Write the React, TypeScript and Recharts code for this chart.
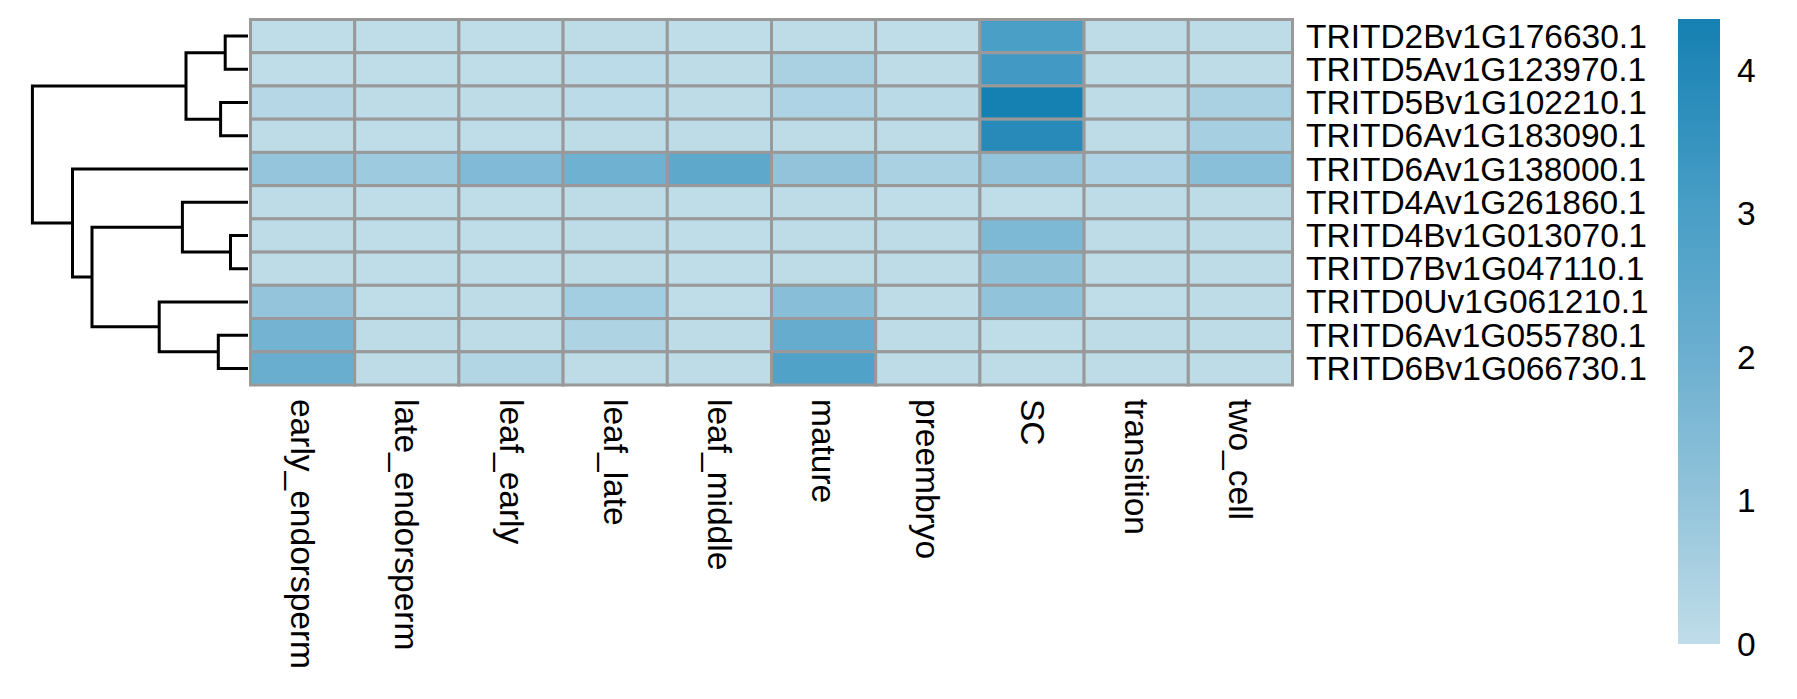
import React from 'react';
import { ScatterChart, Scatter, XAxis, YAxis, BarChart, Bar } from 'recharts';

const stages = [
  'early_endorsperm', 'late_endorsperm', 'leaf_early', 'leaf_late', 'leaf_middle',
  'mature', 'preembryo', 'SC', 'transition', 'two_cell',
];

const genes = [
  'TRITD2Bv1G176630.1', 'TRITD5Av1G123970.1', 'TRITD5Bv1G102210.1', 'TRITD6Av1G183090.1',
  'TRITD6Av1G138000.1', 'TRITD4Av1G261860.1', 'TRITD4Bv1G013070.1', 'TRITD7Bv1G047110.1',
  'TRITD0Uv1G061210.1', 'TRITD6Av1G055780.1', 'TRITD6Bv1G066730.1',
];

// one row per gene, columns in the order of `stages`
const expression = [
  [0.02, 0.03, 0.02, 0.04, 0.03, 0.05, 0.03, 3.0, 0.04, 0.04],
  [0.03, 0.03, 0.03, 0.08, 0.04, 0.5, 0.05, 3.2, 0.04, 0.06],
  [0.23, 0.05, 0.04, 0.1, 0.05, 0.39, 0.14, 4.36, 0.05, 0.5],
  [0.05, 0.03, 0.03, 0.05, 0.04, 0.06, 0.05, 3.9, 0.05, 0.57],
  [0.95, 0.75, 1.49, 1.92, 2.41, 1.03, 0.48, 1.0, 0.39, 1.26],
  [0.04, 0.03, 0.03, 0.04, 0.02, 0.05, 0.03, 0.03, 0.04, 0.04],
  [0.04, 0.03, 0.03, 0.04, 0.03, 0.04, 0.04, 1.56, 0.04, 0.04],
  [0.04, 0.03, 0.03, 0.04, 0.03, 0.04, 0.04, 1.08, 0.04, 0.04],
  [1.0, 0.03, 0.04, 0.64, 0.03, 1.28, 0.04, 1.05, 0.03, 0.04],
  [1.79, 0.04, 0.05, 0.41, 0.04, 2.2, 0.04, 0.03, 0.04, 0.05],
  [2.06, 0.04, 0.3, 0.05, 0.04, 2.82, 0.04, 0.04, 0.04, 0.04],
];

// row clustering: [left, right, height]; leaves are 0..10, merged nodes get 11, 12, ...
const merges: [number, number, number][] = [
  [0, 1, 22.8],
  [2, 3, 27.4],
  [6, 7, 17.5],
  [9, 10, 29.7],
  [11, 12, 62],
  [5, 13, 65.6],
  [8, 14, 88.8],
  [16, 17, 156],
  [4, 18, 175.5],
  [15, 19, 215.6],
];

const legendTicks = [0, 1, 2, 3, 4];
const scaleMax = 4.36;
const paletteStops = [0, 1, 2, 3, 4.36];
const paletteColors = ['#c0dde9', '#93c4db', '#6cafd0', '#4a9fc7', '#1580b2'];

const FONT = '"Liberation Sans", Arial, Helvetica, sans-serif';
const FONT_SIZE = 33.5;

const hexToRgb = (h: string) => [1, 3, 5].map(i => parseInt(h.slice(i, i + 2), 16));

function colorFor(v: number) {
  let i = 0;
  while (i < paletteStops.length - 2 && v > paletteStops[i + 1]) i++;
  const t = Math.max(0, Math.min(1, (v - paletteStops[i]) / (paletteStops[i + 1] - paletteStops[i])));
  const a = hexToRgb(paletteColors[i]);
  const b = hexToRgb(paletteColors[i + 1]);
  const c = a.map((ch, k) => Math.round(ch + (b[k] - ch) * t));
  return `rgb(${c[0]},${c[1]},${c[2]})`;
}

const cells = expression.flatMap((row, y) => row.map((v, x) => ({ x, y, v })));

// dendrogram links, one U-shaped polyline per merge
const nodeY: number[] = genes.map((_, i) => i);
const nodeH: number[] = genes.map(() => 0);
const links = merges.map(([a, b, h]) => {
  const seg = [
    { h: nodeH[a], y: nodeY[a] },
    { h, y: nodeY[a] },
    { h, y: nodeY[b] },
    { h: nodeH[b], y: nodeY[b] },
  ];
  nodeY.push((nodeY[a] + nodeY[b]) / 2);
  nodeH.push(h);
  return seg;
});
const rootHeight = merges[merges.length - 1][2];

const W = 1797;
const H = 699;
const margin = { top: 19.5, left: 250.5, right: 14.5, bottom: 14 };
const xAxisH = 300;
const yAxisW = 490;
const plotW = W - margin.left - margin.right - yAxisW;
const plotH = H - margin.top - margin.bottom - xAxisH;
const cellW = plotW / stages.length;
const cellH = plotH / genes.length;

const ColTick = (props: any) => {
  const { x, y, payload } = props;
  return (
    <text x={x} y={y} transform={`rotate(90, ${x}, ${y})`} textAnchor="start" dominantBaseline="central"
      fontFamily={FONT} fontSize={FONT_SIZE} fill="#000">
      {stages[payload.value]}
    </text>
  );
};

const RowTick = (props: any) => {
  const { x, y, payload } = props;
  return (
    <text x={x} y={y} textAnchor="start" dominantBaseline="central" fontFamily={FONT} fontSize={FONT_SIZE} fill="#000">
      {genes[payload.value]}
    </text>
  );
};

const LegendTick = (props: any) => {
  const { x, y, payload } = props;
  return (
    <text x={x} y={y} textAnchor="start" dominantBaseline="central" fontFamily={FONT} fontSize={FONT_SIZE} fill="#000">
      {payload.value}
    </text>
  );
};

const HeatCell = (props: any) => {
  const { cx, cy, payload } = props;
  return (
    <rect x={cx - cellW / 2} y={cy - cellH / 2} width={cellW} height={cellH}
      fill={colorFor(payload.v)} stroke="#999999" strokeWidth={3} />
  );
};

export default function App() {
  return (
    <div style={{ position: 'absolute', left: 0, top: 0, width: W, height: H, background: '#fff' }}>
      <div style={{ position: 'absolute', left: 0, top: 0 }}>
        <ScatterChart width={W} height={H} margin={margin}>
          <XAxis type="number" dataKey="x" domain={[-0.5, stages.length - 0.5]} ticks={stages.map((_, i) => i)}
            interval={0} height={xAxisH} axisLine={false} tickLine={false} tickSize={0} tickMargin={14}
            tick={<ColTick />} />
          <YAxis type="number" dataKey="y" orientation="right" reversed domain={[-0.5, genes.length - 0.5]}
            ticks={genes.map((_, i) => i)} interval={0} width={yAxisW} axisLine={false} tickLine={false}
            tickSize={0} tickMargin={13.5} tick={<RowTick />} />
          <Scatter data={cells} isAnimationActive={false} shape={<HeatCell />} />
        </ScatterChart>
      </div>

      <div style={{ position: 'absolute', left: 0, top: 0 }}>
        <ScatterChart width={250} height={H} margin={{ top: 19.5, left: 32.4, right: 2, bottom: H - 19.5 - plotH }}>
          <XAxis type="number" dataKey="h" hide reversed domain={[0, rootHeight]} />
          <YAxis type="number" dataKey="y" hide reversed domain={[-0.5, genes.length - 0.5]} />
          {links.map((seg, i) => (
            <Scatter key={i} data={seg} isAnimationActive={false} line={{ stroke: '#000', strokeWidth: 3 }}
              lineType="joint" shape={() => <g />} />
          ))}
        </ScatterChart>
      </div>

      <div style={{ position: 'absolute', left: 1678, top: -1 }}>
        <BarChart width={42 + 80} height={665} data={[{ name: 'scale', v: scaleMax }]}
          margin={{ top: 20, bottom: 20, left: 0, right: 0 }} barCategoryGap={0}>
          <defs>
            <linearGradient id="legendGrad" x1="0" y1="1" x2="0" y2="0">
              {paletteStops.map((s, i) => (
                <stop key={i} offset={s / scaleMax} stopColor={paletteColors[i]} />
              ))}
            </linearGradient>
          </defs>
          <XAxis dataKey="name" hide />
          <YAxis orientation="right" domain={[0, scaleMax]} ticks={legendTicks} interval={0} width={80}
            axisLine={false} tickLine={false} tickSize={0} tickMargin={17} tick={<LegendTick />} />
          <Bar dataKey="v" fill="url(#legendGrad)" isAnimationActive={false} />
        </BarChart>
      </div>
    </div>
  );
}
